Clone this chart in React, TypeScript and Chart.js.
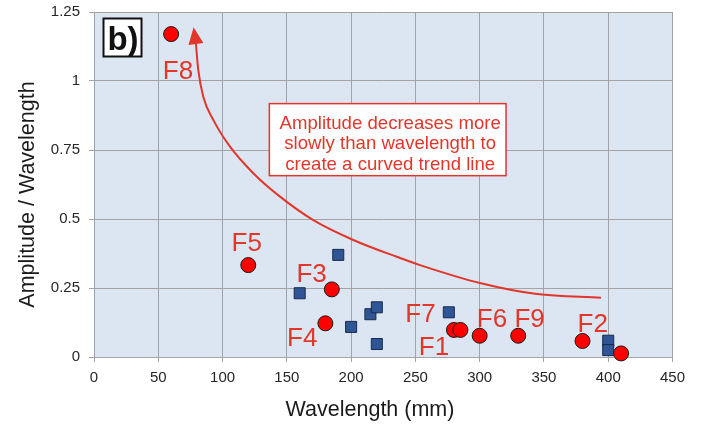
import React, { useEffect, useRef } from 'react';
import { Chart, registerables } from 'chart.js';

Chart.register(...registerables);

// Wavelength (mm) / Amplitude-to-wavelength ratio for the labelled folds (red circles)
const foldX = [60, 120, 185, 180, 280, 285, 300, 330, 380, 410];
const foldY = [1.17, 0.333, 0.245, 0.122, 0.098, 0.098, 0.077, 0.077, 0.058, 0.013];

// Other measurements (blue squares)
const otherX = [160, 190, 200, 215, 220, 220, 276, 400, 400];
const otherY = [0.231, 0.37, 0.109, 0.155, 0.18, 0.047, 0.162, 0.059, 0.025];

// Fold labels (text anchored in data coordinates)
const foldLabels = ['F8', 'F5', 'F3', 'F4', 'F7', 'F1', 'F6', 'F9', 'F2'];
const foldLabelX = [65.3, 118.8, 169.3, 162, 254, 264.5, 309.6, 338.8, 388];
const foldLabelY = [1.042, 0.418, 0.305, 0.072, 0.161, 0.0415, 0.143, 0.143, 0.125];

// Hand-drawn trend arrow (from tail to head)
const trendX = [394.4, 344.6, 300.2, 253.6, 235.5, 201.7, 170.6, 144.7, 123.9, 105.8, 92.8, 85.0, 81.1, 79.3];
const trendY = [0.215, 0.228, 0.268, 0.333, 0.363, 0.424, 0.496, 0.581, 0.666, 0.762, 0.859, 0.943, 1.04, 1.134];

// Annotation
const noteLines = ['Amplitude decreases more', 'slowly than wavelength to', 'create a curved trend line'];
const noteBoxX = [136.4, 320.5];
const noteBoxY = [0.918, 0.657];
const panelLabel = 'b)';

// Axes
const xTickValues = [0, 50, 100, 150, 200, 250, 300, 350, 400, 450];
const yTickValues = [0, 0.25, 0.5, 0.75, 1, 1.25];
const yTickLabels = ['0', '0.25', '0.5', '0.75', '1', '1.25'];
const xTitle = 'Wavelength (mm)';
const yTitle = 'Amplitude / Wavelength';

const RED = '#e2362b';
const FONT = '"Liberation Sans", Arial, Helvetica, sans-serif';

const overlay = {
  id: 'overlay',
  beforeDraw(chart: any) {
    const { ctx, chartArea } = chart;
    ctx.save();
    ctx.fillStyle = '#dce6f2';
    ctx.fillRect(chartArea.left, chartArea.top, chartArea.right - chartArea.left, chartArea.bottom - chartArea.top);
    ctx.restore();
  },
  afterDraw(chart: any) {
    const { ctx } = chart;
    ctx.save();
    ctx.fillStyle = '#1a1a1a';
    ctx.font = '21.5px ' + FONT;
    ctx.textAlign = 'center';
    ctx.textBaseline = 'alphabetic';
    ctx.fillText(xTitle, 370, 416);
    ctx.translate(33.5, 194.5);
    ctx.rotate(-Math.PI / 2);
    ctx.fillText(yTitle, 0, 0);
    ctx.restore();
  },
  afterDatasetsDraw(chart: any) {
    const { ctx, chartArea } = chart;
    const xs = chart.scales.x;
    const ys = chart.scales.y;
    ctx.save();

    // arrow head at the end of the trend line
    const n = trendX.length;
    const hx = xs.getPixelForValue(trendX[n - 1]);
    const hy = ys.getPixelForValue(trendY[n - 1]);
    const px = xs.getPixelForValue(trendX[n - 3]);
    const py = ys.getPixelForValue(trendY[n - 3]);
    const ang = Math.atan2(hy - py, hx - px);
    const len = 17;
    const half = 7.5;
    const tipX = hx + Math.cos(ang) * len;
    const tipY = hy + Math.sin(ang) * len;
    ctx.fillStyle = RED;
    ctx.beginPath();
    ctx.moveTo(tipX, tipY);
    ctx.lineTo(hx + Math.cos(ang + Math.PI / 2) * half, hy + Math.sin(ang + Math.PI / 2) * half);
    ctx.lineTo(hx - Math.cos(ang + Math.PI / 2) * half, hy - Math.sin(ang + Math.PI / 2) * half);
    ctx.closePath();
    ctx.fill();

    // fold labels
    ctx.font = '26px ' + FONT;
    ctx.fillStyle = RED;
    ctx.textAlign = 'center';
    ctx.textBaseline = 'alphabetic';
    foldLabels.forEach((t, i) => {
      const x = xs.getPixelForValue(foldLabelX[i]);
      const y = ys.getPixelForValue(foldLabelY[i]);
      ctx.fillText(t, x, y + 26 * 0.358);
    });

    // annotation box
    const bl = xs.getPixelForValue(noteBoxX[0]);
    const br = xs.getPixelForValue(noteBoxX[1]);
    const bt = ys.getPixelForValue(noteBoxY[0]);
    const bb = ys.getPixelForValue(noteBoxY[1]);
    ctx.fillStyle = '#ffffff';
    ctx.fillRect(bl, bt, br - bl, bb - bt);
    ctx.strokeStyle = RED;
    ctx.lineWidth = 1.5;
    ctx.strokeRect(bl, bt, br - bl, bb - bt);
    ctx.fillStyle = RED;
    ctx.font = '18.6px ' + FONT;
    const cx = (bl + br) / 2 + 2.5;
    noteLines.forEach((t, i) => {
      ctx.fillText(t, cx, bt + 25 + i * 20.8);
    });

    // panel label
    const pl = chartArea.left + 9.5;
    const pt = chartArea.top + 6.5;
    const pw = 38;
    const ph = 38;
    ctx.fillStyle = '#ffffff';
    ctx.fillRect(pl, pt, pw, ph);
    ctx.strokeStyle = '#111111';
    ctx.lineWidth = 2;
    ctx.strokeRect(pl, pt, pw, ph);
    ctx.fillStyle = '#111111';
    ctx.font = 'bold 33px ' + FONT;
    ctx.fillText(panelLabel, pl + pw / 2 + 0.5, pt + 31.5);

    ctx.restore();
  },
};

export default function App() {
  const ref = useRef<HTMLCanvasElement | null>(null);

  useEffect(() => {
    if (!ref.current) return;
    const chart = new Chart(ref.current, {
      type: 'scatter',
      data: {
        datasets: [
          {
            label: 'Folds',
            data: foldX.map((x, i) => ({ x, y: foldY[i] })),
            pointStyle: 'circle',
            pointRadius: 7.5,
            pointHoverRadius: 7.5,
            backgroundColor: '#ff0000',
            borderColor: '#1a1a1a',
            borderWidth: 1,
            clip: false,
          } as any,
          {
            label: 'Other',
            data: otherX.map((x, i) => ({ x, y: otherY[i] })),
            pointStyle: 'rect',
            pointRadius: 7.8,
            pointHoverRadius: 7.8,
            backgroundColor: '#2f5597',
            borderColor: '#172b4d',
            borderWidth: 1,
            clip: false,
          } as any,
          {
            label: 'Trend',
            type: 'line',
            data: trendX.map((x, i) => ({ x, y: trendY[i] })),
            showLine: true,
            cubicInterpolationMode: 'monotone',
            pointRadius: 0,
            borderColor: RED,
            borderWidth: 2,
            fill: false,
          } as any,
        ],
      },
      options: {
        animation: false,
        responsive: true,
        maintainAspectRatio: false,
        events: [],
        layout: { padding: { left: 0, top: 12, right: 30.5, bottom: 0 } },
        plugins: {
          legend: { display: false },
          tooltip: { enabled: false },
        },
        scales: {
          x: {
            type: 'linear',
            min: 0,
            max: 450,
            afterBuildTicks: (s: any) => {
              s.ticks = xTickValues.map((v) => ({ value: v }));
            },
            afterFit: (s: any) => {
              s.height = 69;
            },
            ticks: {
              color: '#262626',
              font: { family: FONT, size: 15 },
              padding: 7,
              maxRotation: 0,
              autoSkip: false,
              callback: (v: any) => String(v),
            },
            grid: { color: '#a3a3a3', lineWidth: 1, tickLength: 5, drawTicks: true },
            border: { color: '#a3a3a3', width: 1 },
            title: { display: false, text: xTitle },
          },
          y: {
            type: 'linear',
            min: 0,
            max: 1.25,
            afterBuildTicks: (s: any) => {
              s.ticks = yTickValues.map((v) => ({ value: v }));
            },
            afterFit: (s: any) => {
              s.width = 94;
              s.paddingTop = 0;
              s.paddingBottom = 0;
            },
            ticks: {
              color: '#262626',
              font: { family: FONT, size: 15 },
              padding: 9,
              autoSkip: false,
              callback: (v: any) => {
                const i = yTickValues.indexOf(Number(v));
                return i >= 0 ? yTickLabels[i] : '';
              },
            },
            grid: { color: '#a3a3a3', lineWidth: 1, tickLength: 5, drawTicks: true },
            border: { color: '#9aa3b3', width: 1 },
            title: { display: false, text: yTitle },
          },
        },
      },
      plugins: [overlay],
    });
    return () => chart.destroy();
  }, []);

  return (
    <div style={{ position: 'absolute', left: 0, top: 0, width: 703, height: 426, background: '#ffffff' }}>
      <canvas ref={ref} width={703} height={426} />
    </div>
  );
}
